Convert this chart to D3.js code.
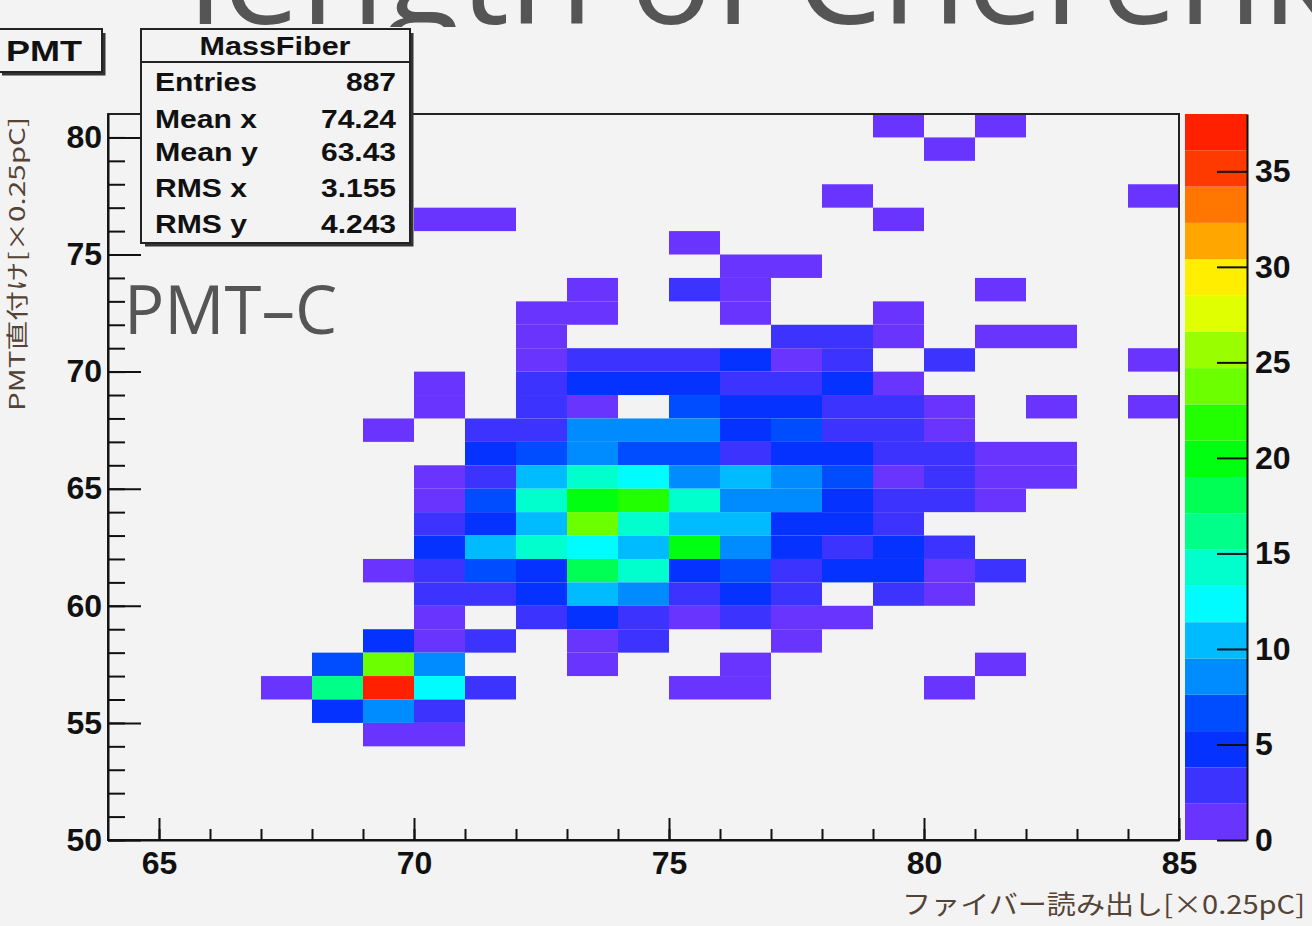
<!DOCTYPE html>
<html>
<head>
<meta charset="utf-8">
<script src="https://cdn.jsdelivr.net/npm/d3@7"></script>
<style>
  html, body { margin: 0; padding: 0; background: #f3f3f3; overflow: hidden; }
  svg { display: block; }
  .tick text { font-family: "Liberation Sans", Arial, sans-serif; font-weight: bold; font-size: 32px; fill: #111; }
  .tick line, .domain { stroke: #111; stroke-width: 2; }
</style>
</head>
<body>
<svg id="chart" width="1312" height="926"></svg>
<script>
// Lower edges of the histogram bins (1 unit wide)
const xBinLow = [64, 65, 66, 67, 68, 69, 70, 71, 72, 73, 74, 75, 76, 77, 78, 79, 80, 81, 82, 83, 84];
const yBinLow = [80, 79, 78, 77, 76, 75, 74, 73, 72, 71, 70, 69, 68, 67, 66, 65, 64, 63, 62, 61, 60,
                 59, 58, 57, 56, 55, 54, 53, 52, 51, 50];

// Bin contents, one row per y bin (top row = y 80), columns follow xBinLow
const binCounts = [
  [0,0,0,0,0,0,0,0,0,0,0,0,0,0,0,1,0,1,0,0,0],
  [0,0,0,0,0,0,0,0,0,0,0,0,0,0,0,0,1,0,0,0,0],
  [0,0,0,0,0,0,0,0,0,0,0,0,0,0,0,0,0,0,0,0,0],
  [0,0,0,0,0,0,0,0,0,0,0,0,0,0,1,0,0,0,0,0,1],
  [0,0,0,0,0,0,1,1,0,0,0,0,0,0,0,1,0,0,0,0,0],
  [0,0,0,0,0,0,0,0,0,0,0,1,0,0,0,0,0,0,0,0,0],
  [0,0,0,0,0,0,0,0,0,0,0,0,1,1,0,0,0,0,0,0,0],
  [0,0,0,0,0,0,0,0,0,1,0,2,1,0,0,0,0,1,0,0,0],
  [0,0,0,0,0,0,0,0,1,1,0,0,1,0,0,1,0,0,0,0,0],
  [0,0,0,0,0,0,0,0,1,0,0,0,0,2,3,1,0,1,1,0,0],
  [0,0,0,0,0,0,0,0,1,3,2,3,5,1,2,0,2,0,0,0,1],
  [0,0,0,0,0,0,1,0,2,5,4,5,3,2,4,1,0,0,0,0,0],
  [0,0,0,0,0,0,1,0,3,1,0,6,5,4,3,2,1,0,1,0,1],
  [0,0,0,0,0,1,0,3,2,9,8,9,5,7,3,2,1,0,0,0,0],
  [0,0,0,0,0,0,0,4,6,8,7,6,3,5,4,2,3,1,1,0,0],
  [0,0,0,0,0,0,1,2,11,15,13,9,10,8,7,1,3,1,1,0,0],
  [0,0,0,0,0,0,1,7,14,20,22,15,9,8,5,3,2,1,0,0,0],
  [0,0,0,0,0,0,3,4,10,24,14,11,10,4,5,2,0,0,0,0,0],
  [0,0,0,0,0,0,5,11,15,12,10,20,8,5,3,4,2,0,0,0,0],
  [0,0,0,0,0,1,3,6,5,18,14,4,7,2,5,4,1,2,0,0,0],
  [0,0,0,0,0,0,2,3,4,10,8,3,4,2,0,3,1,0,0,0,0],
  [0,0,0,0,0,0,1,0,2,4,3,1,2,1,1,0,0,0,0,0,0],
  [0,0,0,0,0,5,1,2,0,1,3,0,0,1,0,0,0,0,0,0,0],
  [0,0,0,0,6,23,9,0,0,1,0,0,1,0,0,0,0,1,0,0,0],
  [0,0,0,1,16,38,12,2,0,0,0,1,1,0,0,0,1,0,0,0,0],
  [0,0,0,0,4,8,3,0,0,0,0,0,0,0,0,0,0,0,0,0,0],
  [0,0,0,0,0,1,1,0,0,0,0,0,0,0,0,0,0,0,0,0,0],
  [0,0,0,0,0,0,0,0,0,0,0,0,0,0,0,0,0,0,0,0,0],
  [0,0,0,0,0,0,0,0,0,0,0,0,0,0,0,0,0,0,0,0,0],
  [0,0,0,0,0,0,0,0,0,0,0,0,0,0,0,0,0,0,0,0,0],
  [0,0,0,0,0,0,0,0,0,0,0,0,0,0,0,0,0,0,0,0,0]
];

// 20 contour colours, violet -> red
const palette = ["#6a34ff", "#3c33ff", "#0532ff", "#004cff", "#008cff", "#00bbff", "#00fcff", "#00ffcc",
                 "#00ff88", "#00ff55", "#00ff10", "#22ff00", "#6cff00", "#99ff00", "#e0ff00", "#ffee00",
                 "#ffa700", "#ff7700", "#ff3a00", "#ff2000"];

const xMajorTicks = [65, 70, 75, 80, 85];
const xMinorTicks = [65, 66, 67, 68, 69, 70, 71, 72, 73, 74, 75, 76, 77, 78, 79, 80, 81, 82, 83, 84, 85];
const yMajorTicks = [50, 55, 60, 65, 70, 75, 80];
const yMinorTicks = [50, 51, 52, 53, 54, 55, 56, 57, 58, 59, 60, 61, 62, 63, 64, 65, 66, 67, 68, 69, 70,
                     71, 72, 73, 74, 75, 76, 77, 78, 79, 80];
const zTicks = [0, 5, 10, 15, 20, 25, 30, 35];

const histName = "MassFiber";
const statLabels = ["Entries", "Mean x", "Mean y", "RMS x", "RMS y"];
const statValues = ["887", "74.24", "63.43", "3.155", "4.243"];

const slideTitle = "length of Cherenkov";
const padLabel = "PMT–C";
const canvasTitle = "PMT";
const xTitle = "ファイバー読み出し[×0.25pC]";
const yTitle = "PMT直付け[×0.25pC]";

const svg = d3.select("#chart");
const sans = "'Liberation Sans', Arial, sans-serif";

// Slide title: only its lower strip shows above the picture
svg.append("defs").append("clipPath").attr("id", "titleStrip")
  .append("rect").attr("x", 0).attr("y", 0).attr("width", 1312).attr("height", 27);
svg.append("text")
  .attr("clip-path", "url(#titleStrip)")
  .attr("x", 188).attr("y", 24)
  .attr("font-family", "'Open Sans', sans-serif")
  .attr("font-size", 138)
  .attr("fill", "#555")
  .text(slideTitle);

// Canvas background
svg.append("rect").attr("x", 0).attr("y", 27).attr("width", 1312).attr("height", 899).attr("fill", "#f3f3f3");

const x = d3.scaleLinear().domain([64, 85]).range([108, 1179]);
const y = d3.scaleLinear().domain([50, 81]).range([840, 114]);
const zMax = d3.max(binCounts.flat());
const z = d3.scaleLinear().domain([0, zMax]).range([840, 114]);
const color = d3.scaleQuantize().domain([0, zMax]).range(palette);

// Histogram cells
const cells = [];
binCounts.forEach((row, i) => row.forEach((v, j) => {
  if (v > 0) cells.push({ x0: xBinLow[j], y0: yBinLow[i], v });
}));
svg.append("g").selectAll("rect").data(cells).join("rect")
  .attr("x", d => x(d.x0))
  .attr("y", d => y(d.y0 + 1))
  .attr("width", d => x(d.x0 + 1) - x(d.x0))
  .attr("height", d => y(d.y0) - y(d.y0 + 1))
  .attr("fill", d => color(d.v));

// Frame
svg.append("rect").attr("x", 108).attr("y", 114).attr("width", 1071).attr("height", 726)
  .attr("fill", "none").attr("stroke", "#222").attr("stroke-width", 2);

// X axis
svg.append("g").attr("transform", "translate(0,840)")
  .call(d3.axisBottom(x).tickValues(xMinorTicks).tickFormat("").tickSizeInner(-11).tickSizeOuter(0))
  .call(g => g.select(".domain").remove());
svg.append("g").attr("transform", "translate(0,840)")
  .call(d3.axisBottom(x).tickValues(xMajorTicks).tickFormat(d3.format("d")).tickSizeInner(-22).tickSizeOuter(0).tickPadding(11));

// Y axis
svg.append("g").attr("transform", "translate(108,0)")
  .call(d3.axisLeft(y).tickValues(yMinorTicks).tickFormat("").tickSizeInner(-17).tickSizeOuter(0))
  .call(g => g.select(".domain").remove());
svg.append("g").attr("transform", "translate(108,0)")
  .call(d3.axisLeft(y).tickValues(yMajorTicks).tickFormat(d3.format("d")).tickSizeInner(-33).tickSizeOuter(0).tickPadding(6));

// Colour bar
svg.append("g").selectAll("rect").data(palette).join("rect")
  .attr("x", 1185).attr("width", 62)
  .attr("y", c => z(color.invertExtent(c)[1]))
  .attr("height", c => z(color.invertExtent(c)[0]) - z(color.invertExtent(c)[1]))
  .attr("fill", c => c);
svg.append("g").attr("transform", "translate(1247,0)")
  .call(d3.axisRight(z).tickValues(zTicks).tickFormat(d3.format("d")).tickSizeInner(-30).tickSizeOuter(0).tickPadding(8));

// Axis titles
const titleColor = "#554336";
svg.append("text")
  .attr("x", 1305).attr("y", 914)
  .attr("text-anchor", "end")
  .attr("font-family", "'Noto Sans CJK JP', sans-serif")
  .attr("font-size", 26).attr("fill", titleColor)
  .attr("textLength", 403).attr("lengthAdjust", "spacingAndGlyphs")
  .text(xTitle);
svg.append("text")
  .attr("transform", "translate(25,117) rotate(-90)")
  .attr("text-anchor", "end")
  .attr("font-family", "'Noto Sans CJK JP', sans-serif")
  .attr("font-size", 22).attr("fill", titleColor)
  .attr("textLength", 294).attr("lengthAdjust", "spacingAndGlyphs")
  .text(yTitle);

// Boxes with a drop shadow on the right and bottom
function shadowBox(x0, y0, w, h) {
  svg.append("path")
    .attr("d", `M${x0 + 4},${y0 + h + 2}H${x0 + w + 2}V${y0 + 4}`)
    .attr("fill", "none").attr("stroke", "#333").attr("stroke-width", 3);
  svg.append("rect").attr("x", x0).attr("y", y0).attr("width", w).attr("height", h)
    .attr("fill", "#f3f3f3").attr("stroke", "#222").attr("stroke-width", 2);
}

// Canvas title box
shadowBox(-2, 29, 104, 43);
svg.append("text").attr("x", 6).attr("y", 61)
  .attr("font-family", sans).attr("font-weight", "bold").attr("font-size", 30).attr("fill", "#111")
  .attr("textLength", 76).attr("lengthAdjust", "spacingAndGlyphs")
  .text(canvasTitle);

// Statistics box
shadowBox(141, 29, 269, 214);
svg.append("line").attr("x1", 141).attr("x2", 410).attr("y1", 62).attr("y2", 62)
  .attr("stroke", "#222").attr("stroke-width", 2);
svg.append("text").attr("x", 275).attr("y", 55).attr("text-anchor", "middle")
  .attr("font-family", sans).attr("font-weight", "bold").attr("font-size", 26).attr("fill", "#111")
  .attr("textLength", 151).attr("lengthAdjust", "spacingAndGlyphs")
  .text(histName);
const statBase = [91, 128, 161, 197, 233];
const labelWidth = [102, 102, 103, 92, 92];
const valueWidth = [50, 75, 75, 75, 75];
statLabels.forEach((s, i) => {
  svg.append("text").attr("x", 155).attr("y", statBase[i])
    .attr("font-family", sans).attr("font-weight", "bold").attr("font-size", 25).attr("fill", "#111")
    .attr("textLength", labelWidth[i]).attr("lengthAdjust", "spacingAndGlyphs")
    .text(s);
  svg.append("text").attr("x", 396).attr("y", statBase[i]).attr("text-anchor", "end")
    .attr("font-family", sans).attr("font-weight", "bold").attr("font-size", 25).attr("fill", "#111")
    .attr("textLength", valueWidth[i]).attr("lengthAdjust", "spacingAndGlyphs")
    .text(statValues[i]);
});

// Pad label
svg.append("text").attr("x", 124).attr("y", 334)
  .attr("font-family", "'Open Sans', sans-serif")
  .attr("font-size", 67).attr("fill", "#555")
  .text(padLabel);
</script>
</body>
</html>
